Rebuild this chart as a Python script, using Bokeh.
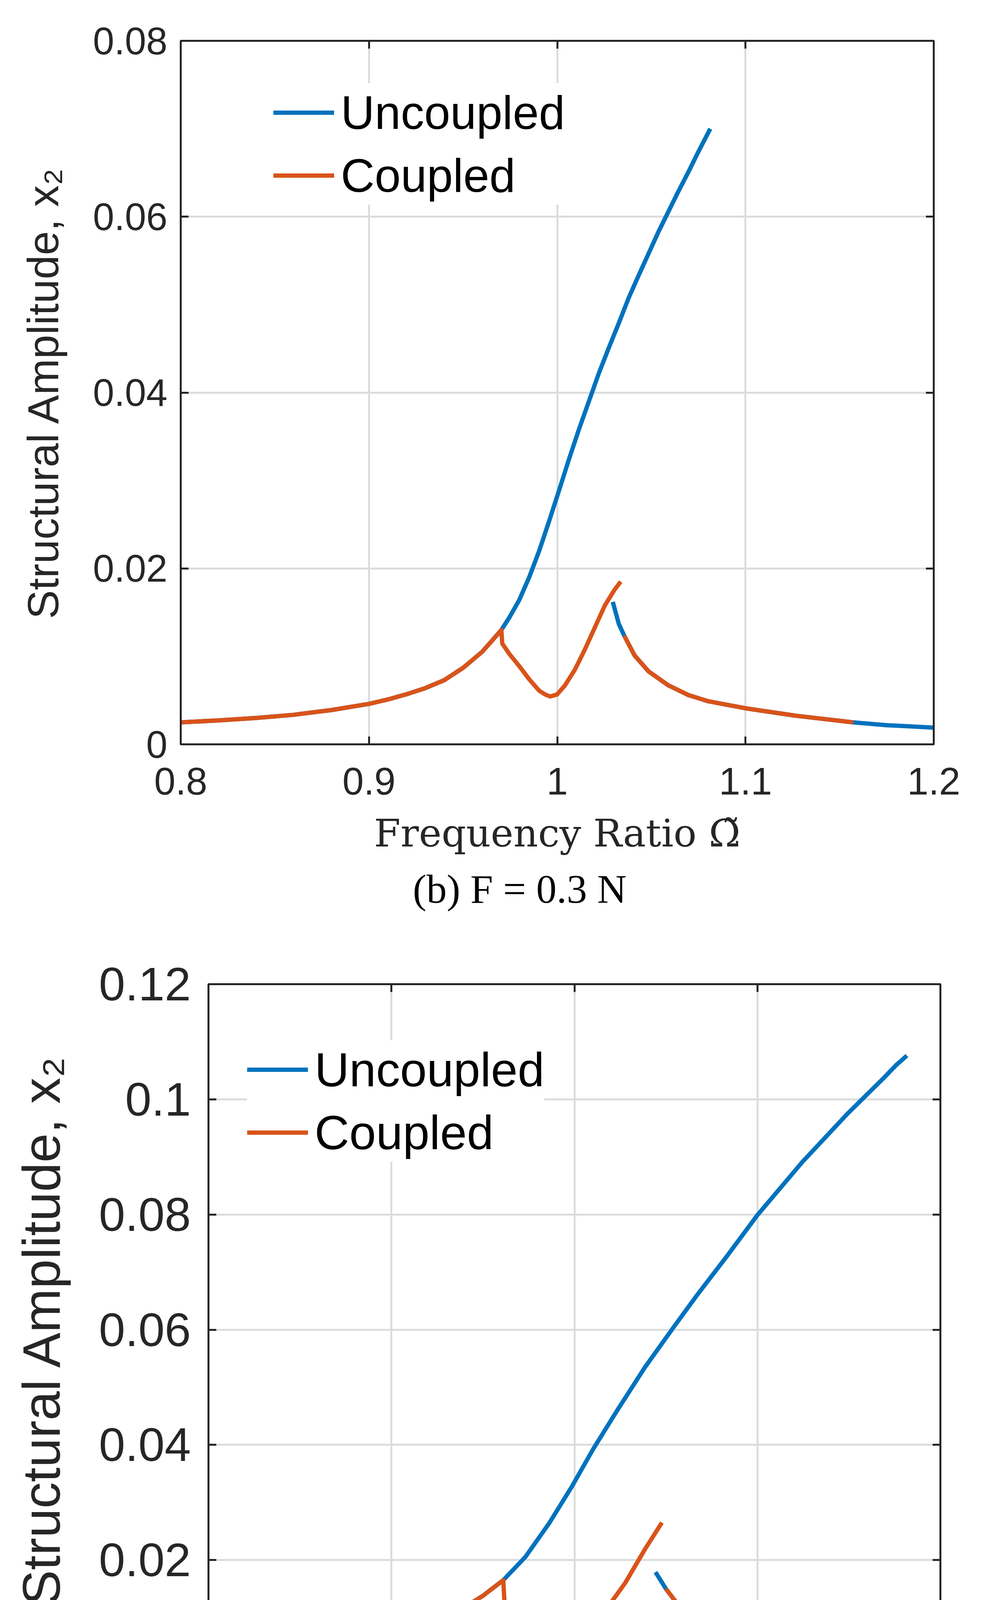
from bokeh.plotting import figure
from bokeh.models import (LinearAxis, FixedTicker, CustomJSTickFormatter, Legend,
                          LegendItem, Title, Range1d)
from bokeh.embed import file_html
from bokeh.resources import INLINE

# ---------------- data ----------------
x_ticks = [0.8, 0.9, 1.0, 1.1, 1.2]
top_y_ticks = [0.0, 0.02, 0.04, 0.06, 0.08]
bot_y_ticks = [0.0, 0.02, 0.04, 0.06, 0.08, 0.10, 0.12]

# (b) F = 0.3 N
top_unc_up_x = [0.80, 0.82, 0.84, 0.86, 0.88, 0.90, 0.91, 0.92, 0.93, 0.94, 0.95, 0.96, 0.965,
                0.9703, 0.9745, 0.9798, 0.9851, 0.9904, 0.9957, 1.001, 1.0062, 1.0115, 1.0168,
                1.0221, 1.0274, 1.0327, 1.038, 1.0432, 1.0485, 1.0538, 1.0591, 1.0644, 1.0697,
                1.075, 1.0813]
top_unc_up_y = [0.0025, 0.00272, 0.0030, 0.00336, 0.0039, 0.0046, 0.0051, 0.0057, 0.0064, 0.0073,
                0.0087, 0.0105, 0.0117, 0.0130, 0.0144, 0.0164, 0.0190, 0.0220, 0.0254, 0.0289,
                0.0324, 0.0358, 0.0390, 0.0422, 0.0451, 0.0479, 0.0508, 0.0533, 0.0558, 0.0583,
                0.0606, 0.0629, 0.0651, 0.0674, 0.0700]
top_unc_lo_x = [1.0295, 1.0327, 1.0356, 1.0411, 1.0485, 1.0591, 1.0697, 1.0802, 1.09, 1.10,
                1.1265, 1.1572, 1.175, 1.20]
top_unc_lo_y = [0.0162, 0.0137, 0.01235, 0.0101, 0.0083, 0.0067, 0.0056, 0.0049, 0.0045, 0.0041,
                0.00326, 0.0025, 0.00218, 0.0019]
top_cpl_a_x = [0.80, 0.82, 0.84, 0.86, 0.88, 0.90, 0.91, 0.92, 0.93, 0.94, 0.95, 0.96, 0.965,
               0.9703, 0.9708, 0.9745, 0.9798, 0.9851, 0.9904, 0.9936, 0.9962, 0.9999, 1.0041,
               1.0094, 1.0147, 1.02, 1.0253, 1.0305, 1.0337]
top_cpl_a_y = [0.0025, 0.00272, 0.0030, 0.00336, 0.0039, 0.0046, 0.0051, 0.0057, 0.0064, 0.0073,
               0.0087, 0.0105, 0.0117, 0.0130, 0.01145, 0.0103, 0.0089, 0.0074, 0.0061, 0.00567,
               0.00544, 0.00567, 0.0067, 0.0085, 0.0108, 0.0133, 0.0158, 0.0176, 0.0185]
top_cpl_b_x = [1.0356, 1.0411, 1.0485, 1.0591, 1.0697, 1.0802, 1.09, 1.10, 1.1265, 1.1572]
top_cpl_b_y = [0.01235, 0.0101, 0.0083, 0.0067, 0.0056, 0.0049, 0.0045, 0.0041, 0.00326, 0.0025]

# (c) F = 0.5 N
bot_unc_up_x = [0.80, 0.82, 0.84, 0.86, 0.88, 0.90, 0.91, 0.92, 0.93, 0.94, 0.95, 0.9611, 0.9731,
                0.9862, 0.9983, 1.0103, 1.0234, 1.0386, 1.0539, 1.067, 1.0834, 1.10, 1.1245,
                1.1486, 1.1693, 1.176, 1.1817]
bot_unc_up_y = [0.0038, 0.0042, 0.0047, 0.0053, 0.0061, 0.0073, 0.0080, 0.0090, 0.0102, 0.0118,
                0.0138, 0.0165, 0.0205, 0.0264, 0.0326, 0.0393, 0.0460, 0.0535, 0.0603, 0.0660,
                0.0728, 0.0799, 0.0891, 0.0973, 0.1038, 0.1060, 0.1076]
bot_unc_lo_x = [1.0443, 1.05, 1.055, 1.0605, 1.078, 1.1009, 1.126, 1.1576, 1.18, 1.20]
bot_unc_lo_y = [0.0179, 0.0150, 0.0129, 0.0115, 0.0080, 0.00665, 0.00527, 0.00402, 0.0035, 0.0031]
bot_cpl_a_x = [0.80, 0.82, 0.84, 0.86, 0.88, 0.90, 0.91, 0.92, 0.93, 0.94, 0.95, 0.9611, 0.9618,
               0.9731, 0.9797, 0.9862, 0.9928, 0.9972, 1.0059, 1.0168, 1.0277, 1.0386, 1.0478]
bot_cpl_a_y = [0.0038, 0.0042, 0.0047, 0.0053, 0.0061, 0.0073, 0.0080, 0.0090, 0.0102, 0.0118,
               0.0138, 0.0165, 0.0125, 0.0094, 0.0077, 0.0056, 0.0047, 0.0049, 0.0070, 0.0112,
               0.0160, 0.0219, 0.0265]
bot_cpl_b_x = [1.05, 1.055, 1.0605, 1.078, 1.1009, 1.126, 1.1576]
bot_cpl_b_y = [0.0150, 0.0129, 0.0115, 0.0080, 0.00665, 0.00527, 0.00402]

legend_labels = ["Uncoupled", "Coupled"]
captions = ["(b) F = 0.3 N", "(c) F = 0.5 N"]
x_titles = ["Frequency Ratio \u03a9\u0303", "Frequency Ratio, \u03a9\u0303"]
y_title = "Structural Amplitude, x\u2082"

# ---------------- style ----------------
BLUE = "#0072BD"
ORANGE = "#D95319"
INK = "#262626"
GRID = "#dcdcdc"
SANS = "Liberation Sans"
SERIF = "Liberation Serif"
MATHSERIF = "DejaVu Serif"

FMT_JS = r"""
let s = tick.toFixed(2);
if (s.indexOf('.') >= 0) { s = s.replace(/0+$/, ''); s = s.replace(/\.$/, ''); }
return s;
"""


def style_axis(ax, ticks, font_px, standoff, show_labels=True):
    ax.ticker = FixedTicker(ticks=ticks, minor_ticks=[])
    ax.major_tick_in = 20
    ax.major_tick_out = 0
    ax.minor_tick_in = 0
    ax.minor_tick_out = 0
    ax.major_tick_line_color = INK
    ax.major_tick_line_width = 5
    ax.axis_line_color = INK
    ax.axis_line_width = 5
    if show_labels:
        ax.formatter = CustomJSTickFormatter(code=FMT_JS)
        ax.major_label_text_font = SANS
        ax.major_label_text_font_size = f"{font_px}px"
        ax.major_label_text_color = INK
        ax.major_label_standoff = standoff
    else:
        ax.formatter = CustomJSTickFormatter(code="return '';")
        ax.major_label_text_font_size = "0px"
        ax.major_label_standoff = 0


def make_panel(cfg):
    p = figure(width=2536, height=cfg["height"],
               x_range=Range1d(0.8, 1.2), y_range=Range1d(0, cfg["ymax"]),
               output_backend="svg", toolbar_location=None,
               min_border_left=cfg["bl"], min_border_right=cfg["br"],
               min_border_top=cfg["bt"], min_border_bottom=cfg["bb"],
               background_fill_color="white", border_fill_color="white")
    p.outline_line_color = INK
    p.outline_line_width = 5

    xa = p.below[0]
    ya = p.left[0]
    style_axis(xa, x_ticks, cfg["tick_px"], cfg["x_std"])
    style_axis(ya, cfg["yticks"], cfg["tick_px"], cfg["y_std"])

    xa.axis_label = cfg["xtitle"]
    xa.axis_label_text_font = MATHSERIF
    xa.axis_label_text_font_style = "normal"
    xa.axis_label_text_font_size = f"{cfg['xlab_px']}px"
    xa.axis_label_text_color = INK
    xa.axis_label_standoff = cfg["xlab_std"]

    ya.axis_label = y_title
    ya.axis_label_text_font = SANS
    ya.axis_label_text_font_style = "normal"
    ya.axis_label_text_font_size = f"{cfg['ylab_px']}px"
    ya.axis_label_text_color = INK
    ya.axis_label_standoff = cfg["ylab_std"]

    ra = LinearAxis()
    style_axis(ra, cfg["yticks"], 0, 0, show_labels=False)
    p.add_layout(ra, "right")
    ta = LinearAxis()
    style_axis(ta, x_ticks, 0, 0, show_labels=False)
    p.add_layout(ta, "above")

    for g in (p.xgrid, p.ygrid):
        g.grid_line_color = GRID
        g.grid_line_width = 5
    p.xgrid.ticker = FixedTicker(ticks=x_ticks)
    p.ygrid.ticker = FixedTicker(ticks=cfg["yticks"])

    kw = dict(line_width=cfg["lw"], line_join="round", line_cap="butt")
    u1 = p.line(cfg["ux1"], cfg["uy1"], line_color=BLUE, **kw)
    p.line(cfg["ux2"], cfg["uy2"], line_color=BLUE, **kw)
    c1 = p.line(cfg["cx1"], cfg["cy1"], line_color=ORANGE, **kw)
    p.line(cfg["cx2"], cfg["cy2"], line_color=ORANGE, **kw)

    leg = Legend(items=[LegendItem(label=legend_labels[0], renderers=[u1]),
                        LegendItem(label=legend_labels[1], renderers=[c1])],
                 location=cfg["leg_loc"], orientation="vertical",
                 padding=16, margin=0, spacing=11,
                 glyph_width=156, glyph_height=150, label_height=150,
                 label_standoff=17, label_text_font=SANS,
                 label_text_font_size=f"{cfg['leg_px']}px", label_text_color="black",
                 background_fill_color="white", background_fill_alpha=1.0,
                 border_line_color=None)
    p.add_layout(leg)

    cap = Title(text=cfg["caption"], align="left", offset=cfg["cap_off"],
                standoff=cfg["cap_std"], text_font=SERIF, text_font_style="normal",
                text_font_size=f"{cfg['cap_px']}px", text_color="black")
    p.add_layout(cap, "below")
    return p


top = make_panel(dict(
    height=2365, ymax=0.08, yticks=top_y_ticks,
    bl=462, br=147, bt=104, bb=460,
    tick_px=98, x_std=60, y_std=34,
    xtitle=x_titles[0], xlab_px=98, xlab_std=39,
    ylab_px=111, ylab_std=62,
    lw=11,
    ux1=top_unc_up_x, uy1=top_unc_up_y, ux2=top_unc_lo_x, uy2=top_unc_lo_y,
    cx1=top_cpl_a_x, cy1=top_cpl_a_y, cx2=top_cpl_b_x, cy2=top_cpl_b_y,
    leg_loc=(237, 1381), leg_px=120,
    caption=captions[0], cap_off=594, cap_std=46, cap_px=104,
))

bottom = make_panel(dict(
    height=2450, ymax=0.12, yticks=bot_y_ticks,
    bl=533, br=130, bt=154, bb=527,
    tick_px=121, x_std=80, y_std=45,
    xtitle=x_titles[1], xlab_px=120, xlab_std=52,
    ylab_px=135, ylab_std=68,
    lw=11,
    ux1=bot_unc_up_x, uy1=bot_unc_up_y, ux2=bot_unc_lo_x, uy2=bot_unc_lo_y,
    cx1=bot_cpl_a_x, cy1=bot_cpl_a_y, cx2=bot_cpl_b_x, cy2=bot_cpl_b_y,
    leg_loc=(99, 1314), leg_px=123,
    caption=captions[1], cap_off=526, cap_std=38, cap_px=104,
))

p = [top, bottom]
open("out.html", "w").write(file_html(p, INLINE))
